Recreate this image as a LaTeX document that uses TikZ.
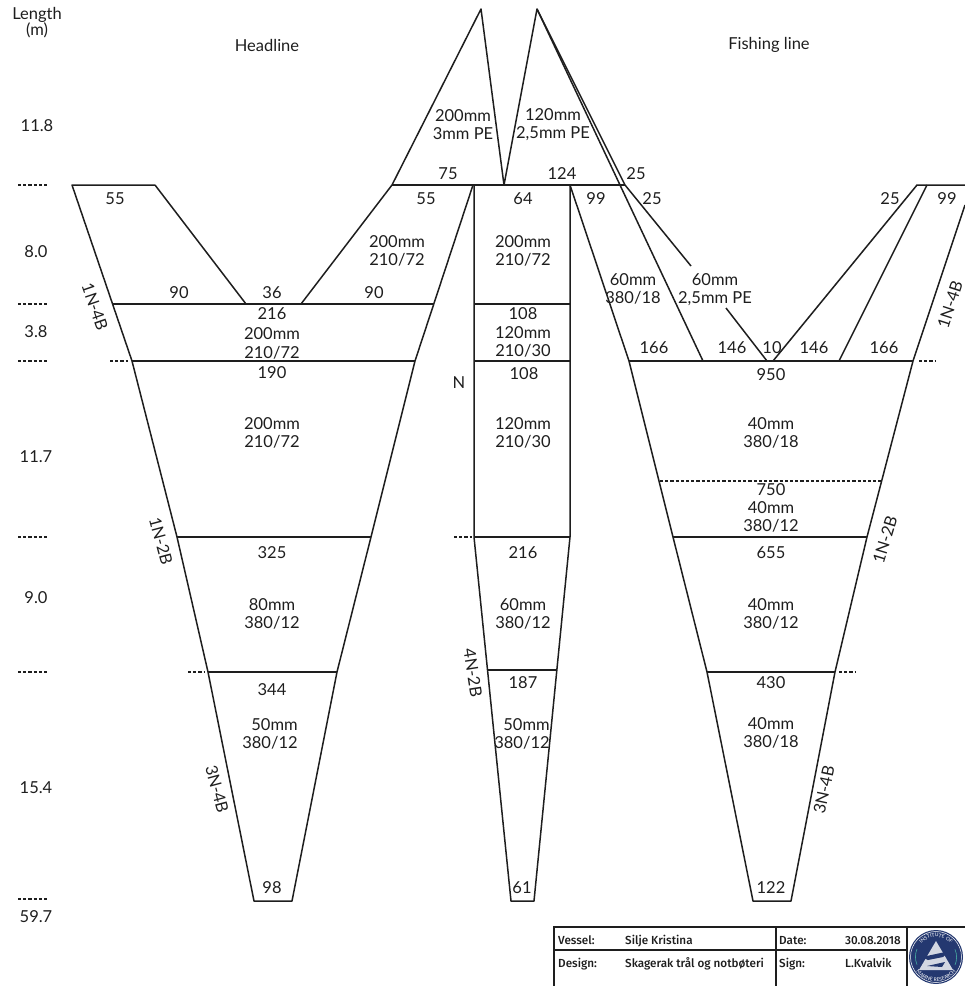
\documentclass[tikz,border=0pt]{standalone}
\usepackage{fontspec}
\setmainfont{Lato}
\newfontfamily\tbfont{Fira Sans Medium}
\usetikzlibrary{decorations.text}
\definecolor{ink}{RGB}{30,30,30}
\definecolor{logoblue}{RGB}{36,56,112}
\definecolor{logoteal}{RGB}{70,170,160}
\tikzset{
  net/.style={draw=ink,line width=1.5pt,line join=round},
  thinline/.style={draw=ink,line width=1.3pt},
  dots/.style={draw=ink,line width=1.3pt,dash pattern=on 3.2pt off 2pt},
  lbl/.style={font=\fontsize{16.5}{18}\selectfont,text=ink,align=center,inner sep=0pt},
  rlbl/.style={lbl,align=right},
  tb/.style={font=\tbfont\fontsize{11.7}{12}\selectfont,text=ink,anchor=base west,inner sep=0pt},
}
\begin{document}
\begin{tikzpicture}[x=1pt,y=-1pt]
\useasboundingbox (0,0) rectangle (965,986);
% left panel
\draw[net] (155,185) -- (72,185) -- (132,361) -- (177,537) -- (208,672) -- (254,901) -- (292,901) -- (337,672) -- (371,537) -- (415,361) -- (473,185);
\draw[net] (155,185) -- (246,304);
\draw[net] (301,304) -- (392,185);
\draw[net] (112,304) -- (434,304);
\draw[net] (132,361) -- (415,361);
\draw[net] (177,537) -- (371,537);
\draw[net] (208,672) -- (337,672);
% top wings
\draw[net] (392,185) -- (481,9) -- (504,185) -- (537,9) -- (625,185);
\draw[net] (392,185) -- (625,185);
\draw[net] (537,9) -- (703,361);
\draw[net] (625,185) -- (691,266);
\draw[net] (726,308) -- (767,361);
% centre panel
\draw[net] (474,185) -- (474,537) -- (511,901) -- (534,901) -- (570,537) -- (570,185);
\draw[net] (474,304) -- (570,304);
\draw[net] (474,361) -- (570,361);
\draw[net] (474,537) -- (570,537);
\draw[net] (488,670) -- (556,670);
% right panel
\draw[net] (570,185) -- (629,361) -- (673,537) -- (707,672) -- (753,901) -- (791,901) -- (835,672) -- (867,537) -- (913,361) -- (965,205);
\draw[net] (629,361) -- (913,361);
\draw[net] (673,537) -- (867,537);
\draw[net] (707,672) -- (835,672);
\draw[dots] (660,481) -- (883,481);
\draw[net] (773,361) -- (917,185) -- (965,185);
\draw[net] (839,361) -- (927,185);
% tick dashes
\foreach \y in {185,304,361,537,672,899} \draw[dots] (18,\y) -- (48,\y);
\draw[dots] (110,361) -- (128,361);
\draw[dots] (188,672) -- (205,672);
\draw[dots] (454,537) -- (472,537);
\draw[dots] (919,361) -- (936,361);
\draw[dots] (839,672) -- (856,672);
% left column labels
\node[lbl] (l0) at (37,15) {Length};
\node[lbl] (l1) at (37,30) {(m)};
\node[lbl] (h1) at (267,45) {Headline};
\node[lbl] (h2) at (769,45) {Fishing line};
\node[lbl] (v1) at (37,126) {11.8};
\node[lbl] (v2) at (36,252) {8.0};
\node[lbl] (v3) at (36,332) {3.8};
\node[lbl] (v4) at (36,457) {11.7};
\node[lbl] (v5) at (36,598) {9.0};
\node[lbl] (v6) at (36,788) {15.4};
\node[lbl] (v7) at (36,917) {59.7};
% headline panel
\node[lbl] (a1) at (115,199) {55};
\node[lbl] (a2) at (179,293) {90};
\node[lbl] (a3) at (272,293) {36};
\node[lbl] (a4) at (374,293) {90};
\node[lbl] (a5) at (426,199) {55};
\node[lbl] (a6) at (397,251) {200mm\\210/72};
\node[lbl] (a7) at (272,314) {216};
\node[lbl] (a8) at (272,334) {200mm};
\node[lbl] (a9) at (272,353) {210/72};
\node[lbl] (a10) at (272,373) {190};
\node[lbl] (a11) at (272,433) {200mm\\210/72};
\node[lbl] (a12) at (272,553) {325};
\node[lbl] (a13) at (272,614) {80mm\\380/12};
\node[lbl] (a14) at (272,690) {344};
\node[rlbl] (a15) at (270,734) {50mm\\380/12};
\node[lbl] (a16) at (272,888) {98};
\node[lbl,rotate=-71] (r1) at (95,307) {1N-4B};
\node[lbl,rotate=-75] (r2) at (161,541) {1N-2B};
\node[lbl,rotate=-75] (r3) at (217,789) {3N-4B};
% wings
\node[lbl] (b1) at (463,125) {200mm\\3mm PE};
\node[lbl] (b2) at (553,125) {120mm\\2,5mm PE};
\node[lbl] (b3) at (448,174) {75};
\node[lbl] (b4) at (562,174) {124};
\node[lbl] (b5) at (636,174) {25};
\node[lbl] (b6) at (652,199) {25};
% centre
\node[lbl] (c1) at (523,199) {64};
\node[lbl] (c2) at (523,251) {200mm\\210/72};
\node[lbl] (c3) at (523,314) {108};
\node[lbl] (c4) at (523,333) {120mm};
\node[lbl] (c5) at (523,351) {210/30};
\node[lbl] (c6) at (524,374) {108};
\node[lbl] (c7) at (523,433) {120mm\\210/30};
\node[lbl] (c8) at (459,383) {N};
\node[lbl] (c9) at (523,553) {216};
\node[lbl] (c10) at (523,614) {60mm\\380/12};
\node[lbl] (c11) at (523,683) {187};
\node[rlbl] (c12) at (522,734) {50mm\\380/12};
\node[lbl] (c13) at (522,888) {61};
\node[lbl,rotate=-81] (c14) at (473,673) {4N-2B};
% fishing line panel
\node[lbl] (d1) at (596,199) {99};
\node[lbl] (d2) at (633,289) {60mm\\380/18};
\node[lbl] (d3) at (715,290) {60mm\\2,5mm PE};
\node[lbl] (d4) at (654,348) {166};
\node[lbl] (d5) at (732,348) {146};
\node[lbl] (d6) at (772,348) {10};
\node[lbl] (d7) at (814,348) {146};
\node[lbl] (d8) at (884,348) {166};
\node[lbl] (d9) at (890,199) {25};
\node[lbl] (d10) at (947,199) {99};
\node[lbl] (d11) at (771,375) {950};
\node[lbl] (d12) at (771,433) {40mm\\380/18};
\node[lbl] (d13) at (771,490) {750};
\node[lbl] (d14) at (771,508) {40mm};
\node[lbl] (d15) at (771,526) {380/12};
\node[lbl] (d16) at (771,553) {655};
\node[lbl] (d17) at (771,614) {40mm\\380/12};
\node[lbl] (d18) at (771,683) {430};
\node[lbl] (d19) at (771,733) {40mm\\380/18};
\node[lbl] (d20) at (771,888) {122};
\node[lbl,rotate=72] (r4) at (950,305) {1N-4B};
\node[lbl,rotate=73] (r5) at (885,540) {1N-2B};
\node[lbl,rotate=78] (r6) at (824,790) {3N-4B};
% title block
\draw[thinline] (554,986) -- (554,927) -- (965,927);
\draw[thinline] (554,950) -- (907,950);
\draw[thinline] (776,927) -- (776,986);
\draw[thinline] (907,927) -- (907,986);
\node[tb] (t1) at (558,944) {Vessel:};
\node[tb] (t2) at (625,944) {Silje Kristina};
\node[tb] (t3) at (779,944) {Date:};
\node[tb] (t4) at (845,944) {30.08.2018};
\node[tb] (t5) at (558,967) {Design:};
\node[tb] (t6) at (625,967) {Skagerak trål og notbøteri};
\node[tb] (t7) at (779,967) {Sign:};
\node[tb] (t8) at (845,967) {L.Kvalvik};
% logo
\fill[logoblue] (936,957) circle (27);
\draw[white,line width=0.5pt] (936,957) circle (25.5);
\draw[logoteal,line width=0.6pt] (917,949) arc[start angle=-157,end angle=-203,radius=20];
\draw[logoteal,line width=0.6pt] (955,965) arc[start angle=23,end angle=-23,radius=20];
\fill[white!80!logoblue] (936,941) -- (953,970) -- (919,970) -- cycle;
\fill[logoblue] (922,957) -- (950,951) -- (943,957) -- (928,960) -- cycle;
\fill[logoblue] (927,966) -- (945,962) -- (942,967) -- cycle;
\path[postaction={decorate,decoration={text along path,text align=center,text={|\fontsize{5}{5}\selectfont\color{white}|INSTITUTE OF}}}] (916,957) arc[start angle=180,end angle=360,radius=20];
\path[postaction={decorate,decoration={text along path,text align=center,text={|\fontsize{5}{5}\selectfont\color{white}|MARINE RESEARCH}}}] (911.5,957) arc[start angle=180,end angle=0,radius=24.5];
\end{tikzpicture}
\end{document}
